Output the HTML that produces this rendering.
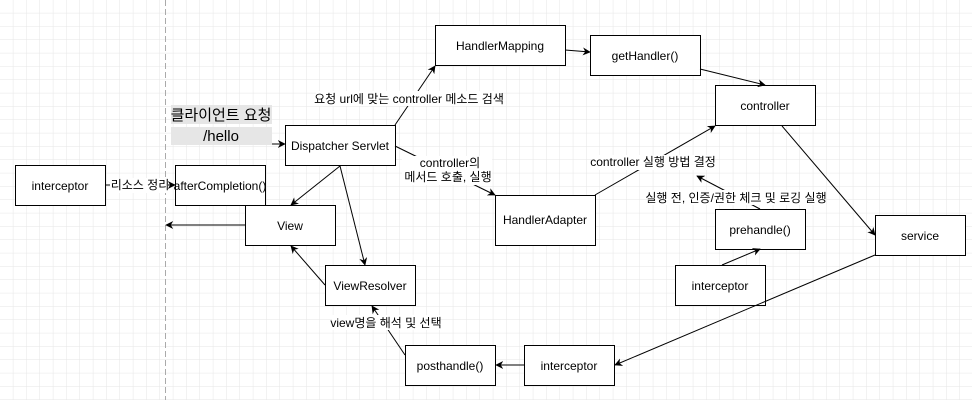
<!DOCTYPE html>
<html><head><meta charset="utf-8"><style>
html,body{margin:0;padding:0;background:#fff}
svg{display:block}
text{font-family:"Liberation Sans","Noto Sans CJK KR",sans-serif;font-size:12px;fill:#000}
</style></head><body>
<svg width="972" height="400" viewBox="0 0 972 400" xmlns="http://www.w3.org/2000/svg">
<defs>
<pattern id="g" width="13.333" height="13.333" patternUnits="userSpaceOnUse">
<path d="M13.333 0V13.333H0" fill="none" stroke="#e6e6e6" stroke-width="1"/>
</pattern>
<marker id="a" viewBox="0 0 10 10" refX="9" refY="5" markerWidth="8" markerHeight="8" orient="auto" markerUnits="userSpaceOnUse">
<path d="M0 0L10 5L0 10L3 5Z" fill="#000"/>
</marker>
</defs>
<rect width="972" height="400" fill="url(#g)"/>
<line x1="165.5" y1="0" x2="165.5" y2="400" stroke="#aaa" stroke-dasharray="6 3"/>
<rect x="171" y="105" width="101" height="19" fill="#e6e6e6"/>
<rect x="171" y="127" width="101" height="18" fill="#e6e6e6"/>
<text x="221" y="120" text-anchor="middle" style="font-size:15px">클라이언트 요청</text>
<text x="221" y="141" text-anchor="middle" style="font-size:15px">/hello</text>
<g fill="#fff" stroke="#000" stroke-width="1">
<rect x="435.5" y="25.5" width="130" height="40"/>
<rect x="590.5" y="35.5" width="110" height="40"/>
<rect x="715.5" y="85.5" width="100" height="40"/>
<rect x="285.5" y="125.5" width="110" height="40"/>
<rect x="15.5" y="165.5" width="90" height="40"/>
<rect x="175.5" y="165.5" width="90" height="40"/>
<rect x="245.5" y="205.5" width="90" height="40"/>
<rect x="495.5" y="195.5" width="100" height="50"/>
<rect x="715.5" y="209.5" width="90" height="40"/>
<rect x="875.5" y="215.5" width="90" height="40"/>
<rect x="675.5" y="265.5" width="90" height="40"/>
<rect x="325.5" y="265.5" width="90" height="40"/>
<rect x="405.5" y="345.5" width="90" height="40"/>
<rect x="524.5" y="345.5" width="90" height="40"/>
</g>
<g stroke="#000" stroke-width="1" fill="none" marker-end="url(#a)">
<line x1="272" y1="144" x2="285" y2="144"/>
<line x1="395" y1="125" x2="435" y2="66"/>
<line x1="565" y1="50" x2="590" y2="52"/>
<line x1="700" y1="69" x2="765" y2="85"/>
<line x1="395" y1="146" x2="495" y2="195"/>
<line x1="595" y1="195" x2="715" y2="126"/>
<line x1="782" y1="126" x2="875" y2="235"/>
<line x1="722" y1="265" x2="760" y2="249"/>
<line x1="760" y1="209" x2="697" y2="176"/>
<line x1="875" y1="255" x2="615" y2="365"/>
<line x1="524" y1="365" x2="496" y2="365"/>
<line x1="405" y1="355" x2="372" y2="306"/>
<line x1="325" y1="285" x2="291" y2="246"/>
<line x1="340" y1="166" x2="291" y2="205"/>
<line x1="340" y1="166" x2="365" y2="265"/>
<line x1="245" y1="225" x2="166" y2="225"/>
<line x1="105" y1="185" x2="175" y2="185"/>
</g>
<g fill="#fff">
<rect x="316" y="91" width="186" height="15"/>
<rect x="402" y="156" width="90" height="29"/>
<rect x="592" y="155" width="123" height="15"/>
<rect x="649" y="190" width="174" height="15"/>
<rect x="332" y="315" width="108" height="15"/>
<rect x="110" y="178" width="58" height="15"/>
</g>
<text x="409" y="103" text-anchor="middle">요청 url에 맞는 controller 메소드 검색</text>
<text x="450" y="167" text-anchor="middle">controller의</text>
<text x="448" y="181" text-anchor="middle">메서드 호출, 실행</text>
<text x="653" y="166" text-anchor="middle">controller 실행 방법 결정</text>
<text x="736" y="202" text-anchor="middle">실행 전, 인증/권한 체크 및 로깅 실행</text>
<text x="386" y="327" text-anchor="middle">view명을 해석 및 선택</text>
<text x="140" y="189" text-anchor="middle">리소스 정리</text>
<g text-anchor="middle">
<text x="500" y="50">HandlerMapping</text>
<text x="645" y="60">getHandler()</text>
<text x="765" y="110">controller</text>
<text x="340" y="150">Dispatcher Servlet</text>
<text x="60" y="190">interceptor</text>
<text x="220" y="190">afterCompletion()</text>
<text x="290" y="230">View</text>
<text x="545" y="224">HandlerAdapter</text>
<text x="760" y="234">prehandle()</text>
<text x="920" y="240">service</text>
<text x="720" y="290">interceptor</text>
<text x="370" y="290">ViewResolver</text>
<text x="450" y="370">posthandle()</text>
<text x="569" y="370">interceptor</text>
</g>
</svg>
</body></html>
